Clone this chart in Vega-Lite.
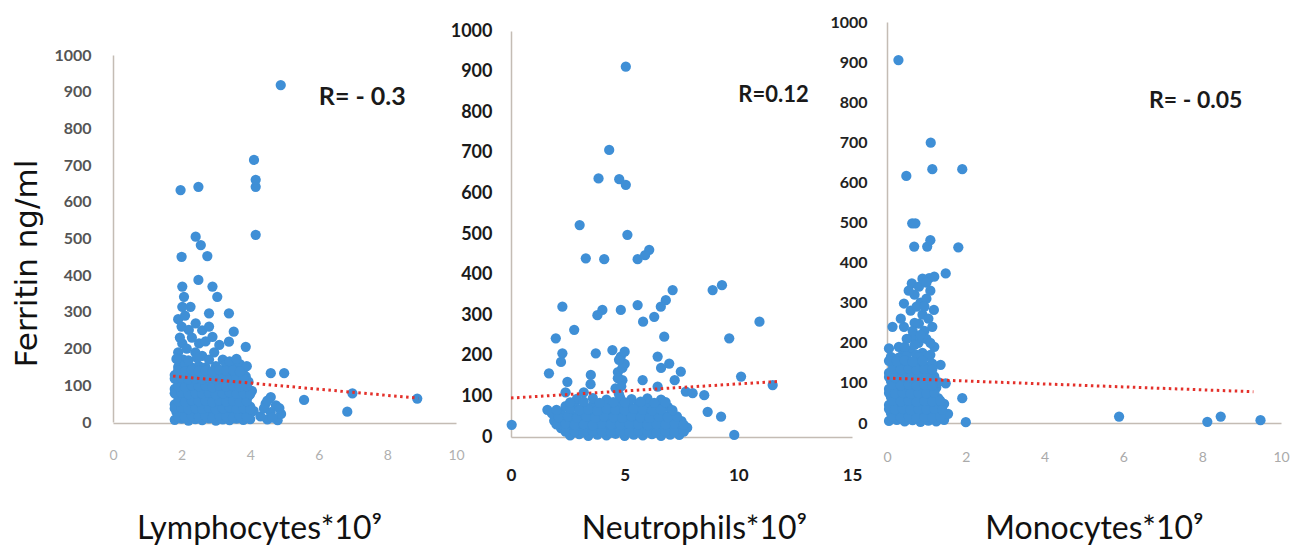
{
"$schema":"https://vega.github.io/schema/vega-lite/v6.json",
"background":"white",
"padding":{"left":11,"top":10,"right":5,"bottom":5},
"config":{"view":{"stroke":null}},
"spacing":55,
"bounds":"flush",
"datasets":{
"lym":[
{"x":4.89,"y":918},{"x":4.11,"y":714},{"x":4.16,"y":641},{"x":4.16,"y":660},{"x":4.16,"y":510},{"x":1.97,"y":632},{"x":2.49,"y":641},{"x":2.0,"y":450},{"x":2.41,"y":505},{"x":2.56,"y":482},{"x":2.75,"y":452},{"x":2.49,"y":387},{"x":2.02,"y":369},{"x":2.07,"y":341},{"x":2.26,"y":314},{"x":2.02,"y":314},{"x":2.9,"y":369},{"x":3.04,"y":341},{"x":2.8,"y":296},{"x":3.38,"y":296},{"x":2.41,"y":269},{"x":2.21,"y":251},{"x":3.52,"y":246},{"x":3.38,"y":219},{"x":3.87,"y":205},{"x":2.02,"y":214},{"x":2.51,"y":214},{"x":2.9,"y":232},{"x":4.6,"y":133},{"x":4.99,"y":133},{"x":5.57,"y":60},{"x":6.98,"y":78},{"x":6.83,"y":28},{"x":8.87,"y":64},{"x":3.87,"y":124},
{"x":1.9,"y":280},{"x":2.0,"y":260},{"x":2.1,"y":290},{"x":1.95,"y":230},{"x":2.15,"y":200},{"x":2.3,"y":230},{"x":2.4,"y":190},{"x":2.6,"y":250},{"x":2.7,"y":220},{"x":2.8,"y":260},{"x":2.95,"y":190},{"x":3.1,"y":210},{"x":3.2,"y":170},{"x":2.6,"y":180},{"x":1.9,"y":190},{"x":2.05,"y":170},
{"x":1.8,"y":6},{"x":2.0,"y":9},{"x":2.2,"y":4},{"x":2.4,"y":8},{"x":2.6,"y":5},{"x":2.8,"y":10},{"x":3.0,"y":4},{"x":3.2,"y":7},{"x":3.4,"y":5},{"x":3.6,"y":9},{"x":3.8,"y":6},{"x":4.0,"y":8},{"x":4.5,"y":7},{"x":4.8,"y":5},
{"x":1.85,"y":27},{"x":2.1,"y":30},{"x":2.3,"y":24},{"x":2.5,"y":28},{"x":2.7,"y":31},{"x":2.9,"y":25},{"x":3.1,"y":29},{"x":3.3,"y":26},{"x":3.5,"y":30},{"x":3.7,"y":24},{"x":3.9,"y":28},{"x":4.1,"y":30},{"x":4.6,"y":27},{"x":4.9,"y":22},
{"x":1.8,"y":48},{"x":2.0,"y":45},{"x":2.2,"y":50},{"x":2.4,"y":46},{"x":2.6,"y":49},{"x":2.8,"y":44},{"x":3.0,"y":50},{"x":3.2,"y":47},{"x":3.4,"y":43},{"x":3.6,"y":49},{"x":3.8,"y":46},{"x":4.0,"y":42},{"x":4.45,"y":50},{"x":4.75,"y":45},
{"x":1.9,"y":70},{"x":2.1,"y":66},{"x":2.3,"y":71},{"x":2.5,"y":65},{"x":2.7,"y":69},{"x":2.9,"y":72},{"x":3.1,"y":66},{"x":3.3,"y":70},{"x":3.5,"y":64},{"x":3.7,"y":68},{"x":3.95,"y":71},{"x":4.6,"y":68},
{"x":1.8,"y":90},{"x":2.0,"y":86},{"x":2.2,"y":92},{"x":2.4,"y":88},{"x":2.6,"y":85},{"x":2.8,"y":91},{"x":3.0,"y":87},{"x":3.2,"y":93},{"x":3.4,"y":86},{"x":3.6,"y":89},{"x":3.8,"y":92},{"x":4.05,"y":85},
{"x":1.9,"y":108},{"x":2.1,"y":112},{"x":2.3,"y":106},{"x":2.5,"y":110},{"x":2.7,"y":105},{"x":2.9,"y":113},{"x":3.1,"y":108},{"x":3.3,"y":104},{"x":3.5,"y":111},{"x":3.7,"y":107},{"x":3.95,"y":110},
{"x":1.8,"y":128},{"x":2.0,"y":132},{"x":2.2,"y":126},{"x":2.4,"y":131},{"x":2.6,"y":127},{"x":2.8,"y":133},{"x":3.0,"y":125},{"x":3.2,"y":130},{"x":3.4,"y":134},{"x":3.6,"y":128},{"x":3.8,"y":131},
{"x":1.9,"y":150},{"x":2.1,"y":155},{"x":2.3,"y":148},{"x":2.5,"y":153},{"x":2.7,"y":149},{"x":3.0,"y":152},{"x":3.3,"y":156},{"x":3.5,"y":150},{"x":3.7,"y":158},{"x":3.9,"y":152},
{"x":1.85,"y":172},{"x":2.2,"y":168},{"x":2.45,"y":175},{"x":2.8,"y":170},{"x":3.4,"y":165},{"x":3.6,"y":172},
{"x":1.9,"y":15},{"x":2.1,"y":13},{"x":2.3,"y":17},{"x":2.5,"y":14},{"x":2.7,"y":16},{"x":2.9,"y":12},{"x":3.1,"y":17},{"x":3.3,"y":15},{"x":3.5,"y":13},{"x":3.7,"y":16},{"x":3.9,"y":14},{"x":4.3,"y":15},{"x":4.65,"y":12},
{"x":1.8,"y":37},{"x":2.0,"y":39},{"x":2.2,"y":35},{"x":2.4,"y":38},{"x":2.6,"y":36},{"x":2.8,"y":39},{"x":3.0,"y":35},{"x":3.2,"y":37},{"x":3.4,"y":40},{"x":3.6,"y":36},{"x":3.8,"y":38},{"x":4.0,"y":35},{"x":4.4,"y":37},{"x":4.85,"y":38},
{"x":1.9,"y":57},{"x":2.1,"y":55},{"x":2.3,"y":59},{"x":2.5,"y":56},{"x":2.7,"y":58},{"x":2.9,"y":54},{"x":3.1,"y":59},{"x":3.3,"y":56},{"x":3.5,"y":58},{"x":3.7,"y":55},{"x":3.9,"y":57},{"x":4.5,"y":58},
{"x":1.8,"y":78},{"x":2.0,"y":80},{"x":2.2,"y":76},{"x":2.4,"y":79},{"x":2.6,"y":77},{"x":2.8,"y":80},{"x":3.0,"y":76},{"x":3.2,"y":78},{"x":3.4,"y":81},{"x":3.6,"y":77},{"x":3.8,"y":79},{"x":4.0,"y":76},
{"x":1.9,"y":98},{"x":2.1,"y":96},{"x":2.3,"y":100},{"x":2.5,"y":97},{"x":2.7,"y":99},{"x":2.9,"y":95},{"x":3.1,"y":100},{"x":3.3,"y":97},{"x":3.5,"y":99},{"x":3.7,"y":96},{"x":3.9,"y":98},
{"x":1.8,"y":118},{"x":2.0,"y":120},{"x":2.2,"y":116},{"x":2.4,"y":119},{"x":2.6,"y":117},{"x":2.8,"y":121},{"x":3.0,"y":116},{"x":3.2,"y":119},{"x":3.4,"y":117},{"x":3.6,"y":120},{"x":3.8,"y":118},
{"x":1.9,"y":140},{"x":2.1,"y":138},{"x":2.3,"y":142},{"x":2.5,"y":139},{"x":2.7,"y":141},{"x":2.9,"y":137},{"x":3.1,"y":142},{"x":3.3,"y":139},{"x":3.5,"y":141},{"x":3.7,"y":138}
],
"neu":[
{"x":5.05,"y":912},{"x":4.32,"y":707},{"x":3.85,"y":637},{"x":4.76,"y":635},{"x":5.05,"y":621},{"x":3.02,"y":522},{"x":5.12,"y":498},{"x":3.29,"y":440},{"x":4.1,"y":438},{"x":5.57,"y":438},{"x":6.08,"y":461},{"x":5.9,"y":448},{"x":8.87,"y":362},{"x":9.28,"y":374},{"x":7.11,"y":362},{"x":6.81,"y":337},{"x":6.59,"y":321},{"x":2.26,"y":321},{"x":4.02,"y":313},{"x":3.8,"y":300},{"x":4.83,"y":313},{"x":5.57,"y":325},{"x":5.81,"y":284},{"x":6.3,"y":296},{"x":10.93,"y":284},{"x":2.78,"y":264},{"x":1.97,"y":243},{"x":6.74,"y":247},{"x":9.6,"y":243},{"x":2.26,"y":206},{"x":3.73,"y":206},{"x":4.46,"y":214},{"x":4.83,"y":198},{"x":6.45,"y":198},{"x":6.96,"y":181},{"x":1.67,"y":157},{"x":7.47,"y":161},{"x":10.12,"y":149},{"x":11.51,"y":128},{"x":3.51,"y":153},{"x":5.79,"y":140},{"x":2.48,"y":136},{"x":8.5,"y":103},{"x":8.65,"y":62},{"x":9.24,"y":50},{"x":9.82,"y":5},{"x":0.03,"y":30},{"x":1.6,"y":67},{"x":6.45,"y":124},{"x":7.69,"y":112},{"x":7.99,"y":108},{"x":7.2,"y":140},{"x":6.6,"y":170},{"x":2.2,"y":185},{"x":2.4,"y":110},{"x":3.5,"y":130},{"x":4.7,"y":160},{"x":4.9,"y":140},{"x":4.6,"y":120},{"x":5.0,"y":180},{"x":3.2,"y":110},
{"x":2.6,"y":4},{"x":3.0,"y":7},{"x":3.4,"y":3},{"x":3.8,"y":6},{"x":4.2,"y":4},{"x":4.6,"y":8},{"x":5.0,"y":3},{"x":5.4,"y":6},{"x":5.8,"y":4},{"x":6.2,"y":7},{"x":6.6,"y":3},{"x":7.0,"y":6},{"x":7.4,"y":5},
{"x":2.2,"y":22},{"x":2.6,"y":25},{"x":3.0,"y":20},{"x":3.4,"y":24},{"x":3.8,"y":21},{"x":4.2,"y":26},{"x":4.6,"y":20},{"x":5.0,"y":23},{"x":5.4,"y":25},{"x":5.8,"y":19},{"x":6.2,"y":24},{"x":6.6,"y":22},{"x":7.0,"y":26},{"x":7.4,"y":20},{"x":7.75,"y":23},
{"x":1.9,"y":40},{"x":2.3,"y":43},{"x":2.7,"y":38},{"x":3.1,"y":42},{"x":3.5,"y":39},{"x":3.9,"y":44},{"x":4.3,"y":40},{"x":4.7,"y":37},{"x":5.1,"y":42},{"x":5.5,"y":40},{"x":5.9,"y":44},{"x":6.3,"y":38},{"x":6.7,"y":41},{"x":7.1,"y":43},{"x":7.5,"y":39},
{"x":1.8,"y":58},{"x":2.2,"y":60},{"x":2.6,"y":56},{"x":3.0,"y":61},{"x":3.4,"y":57},{"x":3.8,"y":59},{"x":4.2,"y":62},{"x":4.6,"y":56},{"x":5.0,"y":60},{"x":5.4,"y":58},{"x":5.8,"y":61},{"x":6.2,"y":57},{"x":6.6,"y":60},{"x":7.0,"y":55},
{"x":2.4,"y":76},{"x":2.8,"y":79},{"x":3.2,"y":74},{"x":3.6,"y":78},{"x":4.0,"y":75},{"x":4.4,"y":80},{"x":4.8,"y":76},{"x":5.2,"y":73},{"x":5.6,"y":78},{"x":6.0,"y":75},{"x":6.4,"y":79},{"x":6.9,"y":74},
{"x":2.9,"y":94},{"x":3.6,"y":96},{"x":4.2,"y":92},{"x":4.8,"y":97},{"x":5.3,"y":93},{"x":6.0,"y":95},{"x":6.6,"y":92},
{"x":2.4,"y":13},{"x":2.8,"y":14},{"x":3.2,"y":12},{"x":3.6,"y":15},{"x":4.0,"y":13},{"x":4.4,"y":11},{"x":4.8,"y":14},{"x":5.2,"y":12},{"x":5.6,"y":15},{"x":6.0,"y":13},{"x":6.4,"y":11},{"x":6.8,"y":14},{"x":7.2,"y":12},{"x":7.6,"y":13},
{"x":2.0,"y":31},{"x":2.4,"y":33},{"x":2.8,"y":30},{"x":3.2,"y":32},{"x":3.6,"y":29},{"x":4.0,"y":33},{"x":4.4,"y":31},{"x":4.8,"y":30},{"x":5.2,"y":33},{"x":5.6,"y":31},{"x":6.0,"y":29},{"x":6.4,"y":32},{"x":6.8,"y":31},{"x":7.2,"y":33},{"x":7.6,"y":30},
{"x":2.1,"y":49},{"x":2.5,"y":51},{"x":2.9,"y":48},{"x":3.3,"y":50},{"x":3.7,"y":47},{"x":4.1,"y":51},{"x":4.5,"y":49},{"x":4.9,"y":48},{"x":5.3,"y":51},{"x":5.7,"y":49},{"x":6.1,"y":47},{"x":6.5,"y":50},{"x":6.9,"y":49},{"x":7.3,"y":51},
{"x":2.0,"y":67},{"x":2.6,"y":69},{"x":3.0,"y":66},{"x":3.4,"y":68},{"x":3.8,"y":65},{"x":4.2,"y":69},{"x":4.6,"y":67},{"x":5.0,"y":66},{"x":5.4,"y":69},{"x":5.8,"y":67},{"x":6.2,"y":65},{"x":6.6,"y":68},{"x":7.1,"y":66},
{"x":2.6,"y":85},{"x":3.2,"y":87},{"x":3.9,"y":84},{"x":4.5,"y":86},{"x":5.0,"y":85},{"x":5.7,"y":87},{"x":6.3,"y":84},{"x":6.8,"y":86},
{"x":4.75,"y":105},{"x":4.85,"y":125},{"x":4.7,"y":145},{"x":4.9,"y":170},{"x":4.75,"y":190},{"x":5.0,"y":210}
],
"mon":[
{"x":0.29,"y":905},{"x":1.11,"y":699},{"x":1.15,"y":633},{"x":1.91,"y":633},{"x":0.49,"y":616},{"x":0.64,"y":498},{"x":0.72,"y":498},{"x":0.69,"y":440},{"x":1.02,"y":440},{"x":1.1,"y":456},{"x":1.81,"y":438},{"x":1.49,"y":373},{"x":1.07,"y":361},{"x":0.63,"y":348},{"x":0.81,"y":340},{"x":0.43,"y":298},{"x":0.7,"y":320},{"x":1.19,"y":282},{"x":0.14,"y":240},{"x":0.43,"y":240},{"x":0.81,"y":248},{"x":0.05,"y":186},{"x":0.64,"y":215},{"x":1.36,"y":145},{"x":1.91,"y":62},{"x":2.0,"y":2},{"x":5.89,"y":16},{"x":8.13,"y":3},{"x":8.47,"y":16},{"x":9.48,"y":7},{"x":1.4,"y":16},{"x":1.49,"y":99},
{"x":0.9,"y":360},{"x":1.0,"y":350},{"x":1.2,"y":365},{"x":0.55,"y":330},{"x":0.85,"y":300},{"x":1.0,"y":310},{"x":1.1,"y":330},{"x":0.6,"y":280},{"x":0.9,"y":270},{"x":1.05,"y":260},{"x":0.35,"y":260},{"x":0.7,"y":250},{"x":0.95,"y":230},{"x":1.15,"y":240},{"x":0.5,"y":210},{"x":0.8,"y":200},{"x":1.0,"y":210},{"x":0.3,"y":190},{"x":0.6,"y":180},{"x":1.2,"y":190},{"x":0.4,"y":170},{"x":0.9,"y":175},
{"x":0.75,"y":290},{"x":0.95,"y":290},{"x":0.65,"y":230},{"x":0.85,"y":220},{"x":0.45,"y":190},{"x":0.7,"y":195},{"x":1.1,"y":200},{"x":0.75,"y":170},{"x":1.1,"y":170},
{"x":0.05,"y":5},{"x":0.25,"y":8},{"x":0.45,"y":4},{"x":0.65,"y":7},{"x":0.85,"y":3},{"x":1.05,"y":6},{"x":1.25,"y":4},{"x":1.45,"y":8},
{"x":0.1,"y":25},{"x":0.3,"y":22},{"x":0.5,"y":27},{"x":0.7,"y":24},{"x":0.9,"y":26},{"x":1.1,"y":21},{"x":1.3,"y":25},{"x":1.55,"y":23},
{"x":0.05,"y":45},{"x":0.25,"y":43},{"x":0.45,"y":47},{"x":0.65,"y":44},{"x":0.85,"y":46},{"x":1.05,"y":42},{"x":1.25,"y":45},{"x":1.45,"y":48},
{"x":0.1,"y":65},{"x":0.3,"y":67},{"x":0.5,"y":63},{"x":0.7,"y":66},{"x":0.9,"y":64},{"x":1.1,"y":68},{"x":1.3,"y":62},
{"x":0.05,"y":85},{"x":0.25,"y":83},{"x":0.45,"y":87},{"x":0.65,"y":84},{"x":0.85,"y":86},{"x":1.05,"y":82},{"x":1.25,"y":88},
{"x":0.1,"y":105},{"x":0.3,"y":107},{"x":0.5,"y":103},{"x":0.7,"y":106},{"x":0.9,"y":104},{"x":1.1,"y":108},{"x":1.3,"y":102},
{"x":0.05,"y":125},{"x":0.25,"y":123},{"x":0.45,"y":127},{"x":0.65,"y":124},{"x":0.85,"y":126},{"x":1.05,"y":122},
{"x":0.15,"y":145},{"x":0.35,"y":147},{"x":0.55,"y":143},{"x":0.75,"y":146},{"x":0.95,"y":144},{"x":1.15,"y":148},
{"x":0.1,"y":165},{"x":0.3,"y":163},{"x":0.5,"y":167},{"x":0.8,"y":164},{"x":1.0,"y":166},
{"x":0.15,"y":15},{"x":0.35,"y":14},{"x":0.55,"y":16},{"x":0.75,"y":13},{"x":0.95,"y":15},{"x":1.15,"y":14},{"x":1.35,"y":16},
{"x":0.05,"y":35},{"x":0.2,"y":34},{"x":0.4,"y":36},{"x":0.6,"y":33},{"x":0.8,"y":35},{"x":1.0,"y":34},{"x":1.2,"y":36},{"x":1.4,"y":33},
{"x":0.15,"y":55},{"x":0.35,"y":54},{"x":0.55,"y":56},{"x":0.75,"y":53},{"x":0.95,"y":55},{"x":1.15,"y":54},{"x":1.35,"y":56},
{"x":0.05,"y":75},{"x":0.2,"y":74},{"x":0.4,"y":76},{"x":0.6,"y":73},{"x":0.8,"y":75},{"x":1.0,"y":74},{"x":1.2,"y":76},
{"x":0.15,"y":95},{"x":0.35,"y":94},{"x":0.55,"y":96},{"x":0.75,"y":93},{"x":0.95,"y":95},{"x":1.15,"y":94},
{"x":0.05,"y":115},{"x":0.2,"y":114},{"x":0.4,"y":116},{"x":0.6,"y":113},{"x":0.8,"y":115},{"x":1.0,"y":114},{"x":1.2,"y":116},
{"x":0.15,"y":135},{"x":0.35,"y":134},{"x":0.55,"y":136},{"x":0.75,"y":133},{"x":0.95,"y":135},{"x":1.15,"y":134},
{"x":0.05,"y":155},{"x":0.25,"y":154},{"x":0.45,"y":156},{"x":0.65,"y":153},{"x":0.9,"y":155}
],
"lymT":[{"x":1.75,"y":125},{"x":8.9,"y":65}],
"neuT":[{"x":0,"y":96},{"x":11.8,"y":137}],
"monT":[{"x":0,"y":112},{"x":9.3,"y":78}],
"lymR":[{"x":6.0,"y":864,"t":"R= - 0.3"}],
"neuR":[{"x":10.0,"y":825,"t":"R=0.12"}],
"monR":[{"x":6.65,"y":785,"t":"R= - 0.05"}]
},
"hconcat":[
{"width":343,"height":428,
"layer":[
{"data":{"name":"lym"},"mark":{"type":"circle","size":105,"color":"#3f8fd6","opacity":1},
"encoding":{
"x":{"field":"x","type":"quantitative","scale":{"domain":[0,10],"nice":false,"zero":false},
"axis":{"title":"Lymphocytes*10⁹","titleFont":"Lato","titleFontSize":32,"titleFontWeight":"normal","titleColor":"#111","titleX":146,"titleY":115,"titleAlign":"center","titleBaseline":"alphabetic","values":[0,2,4,6,8,10],"format":"d","offset":-15,"grid":false,"ticks":false,"tickSize":0,"labelPadding":25,"labelFont":"Lato","labelFontSize":14,"labelColor":"#b0b0b0","labelFlush":false,"labelOverlap":false,"domainColor":"#c4bcb4","domainWidth":1.5}},
"y":{"field":"y","type":"quantitative","scale":{"domain":[0,1000],"range":[412,45],"nice":false,"zero":false},
"axis":{"title":"Ferritin ng/ml","titleFont":"DejaVu Sans","titleFontSize":31,"titleFontWeight":"normal","titleColor":"#111","titleX":-86,"titleY":253,"titleAngle":-90,"titleBaseline":"middle","titleAlign":"center","values":[0,100,200,300,400,500,600,700,800,900,1000],"format":"d","grid":false,"ticks":false,"tickSize":0,"labelPadding":22,"labelFont":"Lato","labelFontSize":16,"labelFontWeight":"bold","labelColor":"#555","labelOverlap":false,"labelFlush":false,"domainColor":"#c4bcb4","domainWidth":1.5}}}},
{"data":{"name":"lymT"},"mark":{"type":"line","color":"#e4312b","strokeWidth":3,"strokeDash":[2.5,3.5]},
"encoding":{"x":{"field":"x","type":"quantitative"},"y":{"field":"y","type":"quantitative"}}},
{"data":{"name":"lymR"},"mark":{"type":"text","align":"left","baseline":"alphabetic","font":"Lato","fontSize":25,"fontWeight":"bold","color":"#1a1a1a"},
"encoding":{"x":{"field":"x","type":"quantitative"},"y":{"field":"y","type":"quantitative"},"text":{"field":"t"}}}
]},
{"width":321,"height":428,
"layer":[
{"data":{"name":"neu"},"mark":{"type":"circle","size":105,"color":"#3f8fd6","opacity":1},
"encoding":{
"x":{"field":"x","type":"quantitative","scale":{"domain":[0,15],"range":[0,341],"nice":false,"zero":false},
"axis":{"title":"Neutrophils*10⁹","titleFont":"Lato","titleFontSize":32,"titleFontWeight":"normal","titleColor":"#111","titleX":183,"titleY":101,"titleAlign":"center","titleBaseline":"alphabetic","values":[0,5,10,15],"format":"d","offset":-1,"grid":false,"ticks":false,"tickSize":0,"labelPadding":30,"labelFont":"Lato","labelFontSize":17,"labelFontWeight":"bold","labelColor":"#1a1a1a","labelFlush":false,"labelOverlap":false,"domainColor":"#c4bcb4","domainWidth":1.5}},
"y":{"field":"y","type":"quantitative","scale":{"domain":[0,1000],"range":[427,21],"nice":false,"zero":false},
"axis":{"title":null,"values":[0,100,200,300,400,500,600,700,800,900,1000],"format":"d","grid":false,"ticks":false,"tickSize":0,"labelPadding":19,"labelFont":"Lato","labelFontSize":18,"labelFontWeight":"bold","labelColor":"#1a1a1a","labelOverlap":false,"labelFlush":false,"domainColor":"#c4bcb4","domainWidth":1.5}}}},
{"data":{"name":"neuT"},"mark":{"type":"line","color":"#e4312b","strokeWidth":3,"strokeDash":[2.5,3.5]},
"encoding":{"x":{"field":"x","type":"quantitative"},"y":{"field":"y","type":"quantitative"}}},
{"data":{"name":"neuR"},"mark":{"type":"text","align":"left","baseline":"alphabetic","font":"Lato","fontSize":22,"fontWeight":"bold","color":"#1a1a1a"},
"encoding":{"x":{"field":"x","type":"quantitative"},"y":{"field":"y","type":"quantitative"},"text":{"field":"t"}}}
]},
{"width":394,"height":428,
"layer":[
{"data":{"name":"mon"},"mark":{"type":"circle","size":105,"color":"#3f8fd6","opacity":1},
"encoding":{
"x":{"field":"x","type":"quantitative","scale":{"domain":[0,10],"nice":false,"zero":false},
"axis":{"title":"Monocytes*10⁹","titleFont":"Lato","titleFontSize":32,"titleFontWeight":"normal","titleColor":"#111","titleX":207,"titleY":115,"titleAlign":"center","titleBaseline":"alphabetic","values":[0,2,4,6,8,10],"format":"d","offset":-15,"grid":false,"ticks":false,"tickSize":0,"labelPadding":27,"labelFont":"Lato","labelFontSize":14,"labelColor":"#aaaaaa","labelFlush":false,"labelOverlap":false,"domainColor":"#c4bcb4","domainWidth":1.5}},
"y":{"field":"y","type":"quantitative","scale":{"domain":[0,1000],"range":[413,12],"nice":false,"zero":false},
"axis":{"title":null,"values":[0,100,200,300,400,500,600,700,800,900,1000],"format":"d","grid":false,"ticks":false,"tickSize":0,"labelPadding":20,"labelFont":"Lato","labelFontSize":16,"labelFontWeight":"bold","labelColor":"#222","labelOverlap":false,"labelFlush":false,"domainColor":"#c4bcb4","domainWidth":1.5}}}},
{"data":{"name":"monT"},"mark":{"type":"line","color":"#e4312b","strokeWidth":3,"strokeDash":[2.5,3.5]},
"encoding":{"x":{"field":"x","type":"quantitative"},"y":{"field":"y","type":"quantitative"}}},
{"data":{"name":"monR"},"mark":{"type":"text","align":"left","baseline":"alphabetic","font":"Lato","fontSize":23,"fontWeight":"bold","color":"#1a1a1a"},
"encoding":{"x":{"field":"x","type":"quantitative"},"y":{"field":"y","type":"quantitative"},"text":{"field":"t"}}}
]}
]
}
